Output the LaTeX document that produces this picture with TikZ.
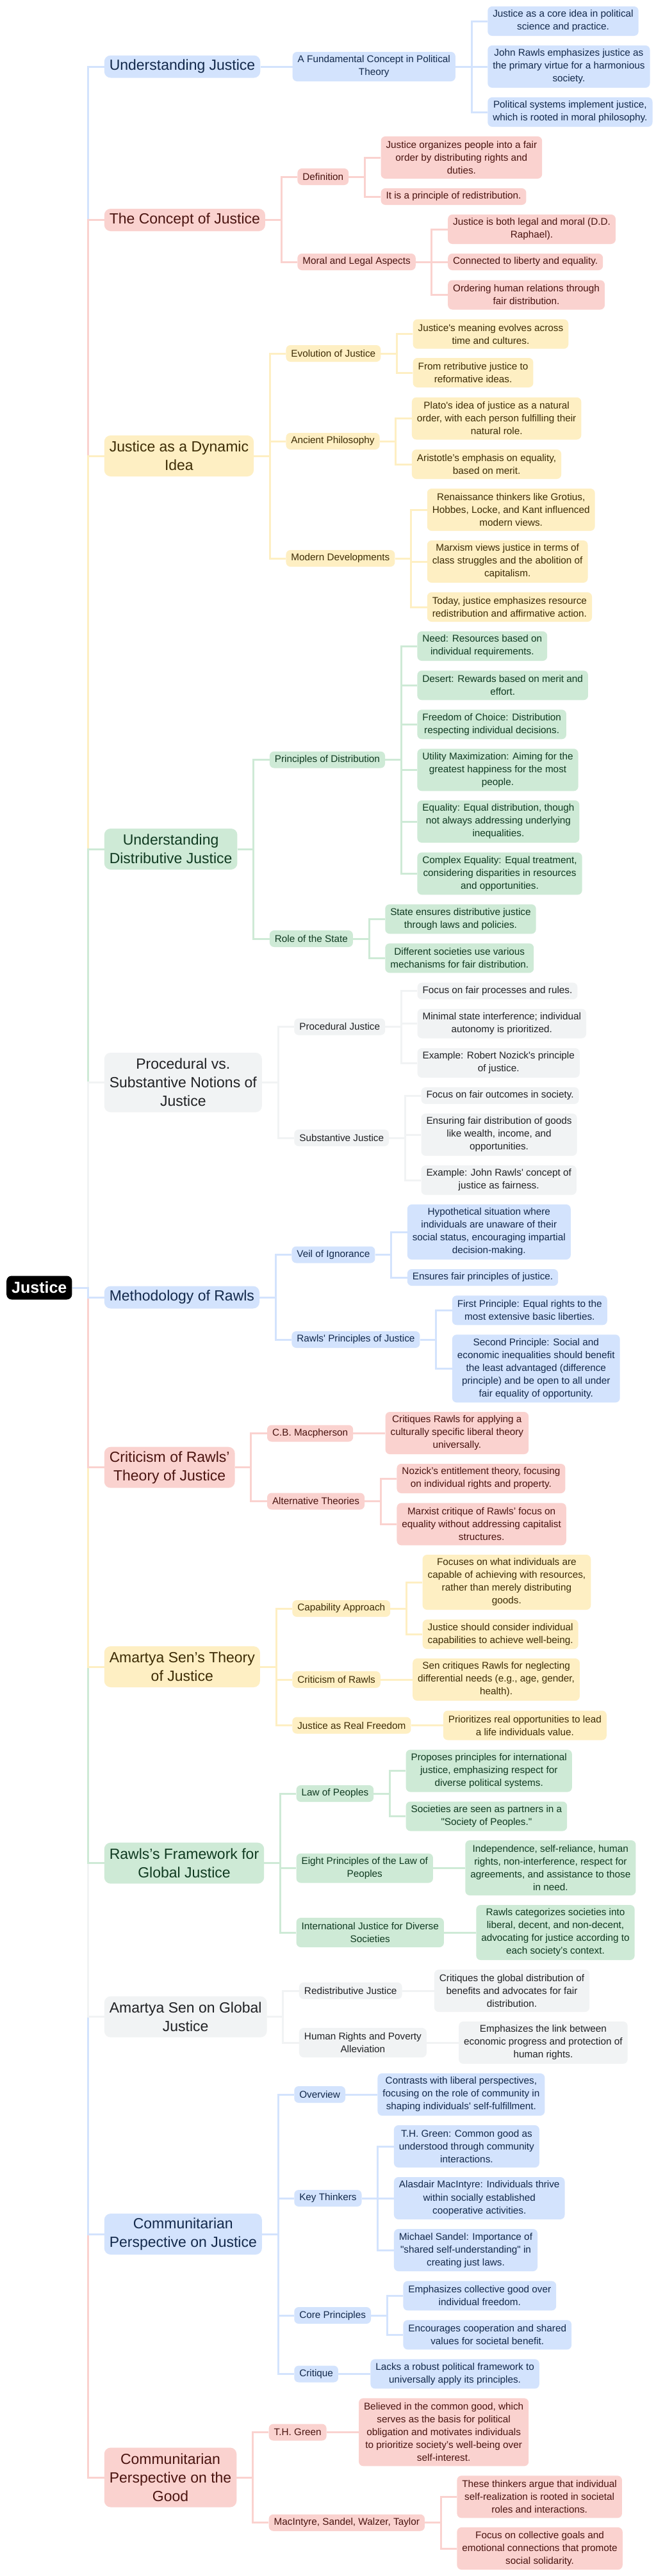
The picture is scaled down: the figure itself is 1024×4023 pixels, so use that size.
\documentclass[tikz,border=0pt]{standalone}
\usepackage{fontspec}
\setmainfont{Liberation Sans}[Ligatures=TeXOff]
\usetikzlibrary{calc,backgrounds}
\definecolor{fB}{HTML}{D3E3FD}\definecolor{tB}{HTML}{13294B}
\definecolor{fR}{HTML}{FAD2CF}\definecolor{tR}{HTML}{4A1410}
\definecolor{fY}{HTML}{FEEFC3}\definecolor{tY}{HTML}{3D2C05}
\definecolor{fG}{HTML}{CEEAD6}\definecolor{tG}{HTML}{103A21}
\definecolor{fK}{HTML}{F1F3F4}\definecolor{tK}{HTML}{202124}
\tikzset{
  base/.style={align=center,inner xsep=8pt,inner ysep=3pt},
  small/.style={base,rounded corners=7pt,font=\fontsize{15.3}{20}\selectfont},
  big/.style={base,rounded corners=10pt,font=\fontsize{23}{29}\selectfont},
  n1/.style={minimum height=26pt},n2/.style={minimum height=46pt},
  n3/.style={minimum height=66pt},n4/.style={minimum height=86pt},
  n5/.style={minimum height=106pt},
  b1/.style={minimum height=35pt},b2/.style={minimum height=64pt},
  b3/.style={minimum height=93pt},
  cB/.style={fill=fB,text=tB},cR/.style={fill=fR,text=tR},
  cY/.style={fill=fY,text=tY},cG/.style={fill=fG,text=tG},
  cK/.style={fill=fK,text=tK},
  lnB/.style={draw=fB,line width=3pt},lnR/.style={draw=fR,line width=3pt},
  lnY/.style={draw=fY,line width=3pt},lnG/.style={draw=fG,line width=3pt},
  lnK/.style={draw=fK,line width=3pt},
}
% #1 parent, #2 name, #3 colour, #4 lines, #5 y, #6 text
\newcommand\mmkid[6]{%
  \node[small,c#3,n#4,anchor=west] (#2) at ($(#1.east |- 0,#5)+(50,0)$) {#6};
  \begin{pgfonlayer}{background}\draw[ln#3] (#1.east) -- ++(25,0) |- (#2.west);\end{pgfonlayer}%
}
\newcommand\mmtop[5]{%
  \node[big,c#2,b#3,anchor=west] (#1) at ($(root.east |- 0,#4)+(50,0)$) {#5};%
}
\begin{document}
\begin{tikzpicture}[x=1pt,y=-1pt]
\useasboundingbox (0,0) rectangle (1024,4023);
\begin{pgfonlayer}{background}\fill[white] (0,0) rectangle (1024,4023);\end{pgfonlayer}
\node[base,rounded corners=8pt,fill=black,text=white,minimum height=37pt,font=\bfseries\fontsize{25}{31}\selectfont,anchor=west] (root) at (10,2011) {Justice};

\mmtop{uj}{B}{1}{104}{Understanding Justice}
\mmtop{cj}{R}{1}{343.5}{The Concept of Justice}
\mmtop{dyn}{Y}{2}{712}{Justice as a Dynamic\\Idea}
\mmtop{dist}{G}{2}{1326}{Understanding\\Distributive Justice}
\mmtop{proc}{K}{3}{1690.5}{Procedural vs.\\Substantive Notions of\\Justice}
\mmtop{meth}{B}{1}{2026}{Methodology of Rawls}
\mmtop{crit}{R}{2}{2291.7}{Criticism of Rawls’\\Theory of Justice}
\mmtop{sen}{Y}{2}{2603}{Amartya Sen’s Theory\\of Justice}
\mmtop{glob}{G}{2}{2909.7}{Rawls’s Framework for\\Global Justice}
\mmtop{seng}{K}{2}{3149.7}{Amartya Sen on Global\\Justice}
\mmtop{comj}{B}{2}{3489}{Communitarian\\Perspective on Justice}
\mmtop{comg}{R}{3}{3869}{Communitarian\\Perspective on the\\Good}

\begin{pgfonlayer}{background}
\draw[lnB] (root.east) -- ++(25,0) |- (uj.west);
\draw[lnR] (root.east) -- ++(25,0) |- (cj.west);
\draw[lnY] (root.east) -- ++(25,0) |- (dyn.west);
\draw[lnG] (root.east) -- ++(25,0) |- (dist.west);
\draw[lnK] (root.east) -- ++(25,0) |- (proc.west);
\draw[lnR] (root.east) -- ++(25,0) |- (comg.west);
\draw[lnB] (root.east) -- ++(25,0) |- (comj.west);
\draw[lnK] (root.east) -- ++(25,0) |- (seng.west);
\draw[lnG] (root.east) -- ++(25,0) |- (glob.west);
\draw[lnY] (root.east) -- ++(25,0) |- (sen.west);
\draw[lnR] (root.east) -- ++(25,0) |- (crit.west);
\draw[lnB] (root.east) -- ++(25,0) |- (meth.west);
\end{pgfonlayer}

% Understanding Justice
\mmkid{uj}{fc}{B}{2}{104}{A Fundamental Concept in Political\\Theory}
\mmkid{fc}{a1}{B}{2}{33}{Justice as a core idea in political\\science and practice.}
\mmkid{fc}{a2}{B}{3}{104}{John Rawls emphasizes justice as\\the primary virtue for a harmonious\\society.}
\mmkid{fc}{a3}{B}{2}{175}{Political systems implement justice,\\which is rooted in moral philosophy.}

% Concept of Justice
\mmkid{cj}{def}{R}{1}{276}{Definition}
\mmkid{def}{b1x}{R}{3}{246}{Justice organizes people into a fair\\order by distributing rights and\\duties.}
\mmkid{def}{b2x}{R}{1}{307}{It is a principle of redistribution.}
\mmkid{cj}{mla}{R}{1}{409}{Moral and Legal Aspects}
\mmkid{mla}{b3x}{R}{2}{358}{Justice is both legal and moral (D.D.\\Raphael).}
\mmkid{mla}{b4x}{R}{1}{409}{Connected to liberty and equality.}
\mmkid{mla}{b5x}{R}{2}{460.5}{Ordering human relations through\\fair distribution.}

% Dynamic idea
\mmkid{dyn}{evo}{Y}{1}{552}{Evolution of Justice}
\mmkid{evo}{c1}{Y}{2}{521.7}{Justice's meaning evolves across\\time and cultures.}
\mmkid{evo}{c2}{Y}{2}{582}{From retributive justice to\\reformative ideas.}
\mmkid{dyn}{anc}{Y}{1}{689}{Ancient Philosophy}
\mmkid{anc}{c3}{Y}{3}{653.5}{Plato's idea of justice as a natural\\order, with each person fulfilling their\\natural role.}
\mmkid{anc}{c4}{Y}{2}{725}{Aristotle’s emphasis on equality,\\based on merit.}
\mmkid{dyn}{mod}{Y}{1}{872}{Modern Developments}
\mmkid{mod}{c5}{Y}{3}{796}{Renaissance thinkers like Grotius,\\Hobbes, Locke, and Kant influenced\\modern views.}
\mmkid{mod}{c6}{Y}{3}{877}{Marxism views justice in terms of\\class struggles and the abolition of\\capitalism.}
\mmkid{mod}{c7}{Y}{2}{948}{Today, justice emphasizes resource\\redistribution and affirmative action.}

% Distributive
\mmkid{dist}{pod}{G}{1}{1186.5}{Principles of Distribution}
\mmkid{pod}{d1}{G}{2}{1009}{Need: Resources based on\\individual requirements.}
\mmkid{pod}{d2}{G}{2}{1070.3}{Desert: Rewards based on merit and\\effort.}
\mmkid{pod}{d3}{G}{2}{1131.3}{Freedom of Choice: Distribution\\respecting individual decisions.}
\mmkid{pod}{d4}{G}{3}{1202.3}{Utility Maximization: Aiming for the\\greatest happiness for the most\\people.}
\mmkid{pod}{d5}{G}{3}{1283}{Equality: Equal distribution, though\\not always addressing underlying\\inequalities.}
\mmkid{pod}{d6}{G}{3}{1364.3}{Complex Equality: Equal treatment,\\considering disparities in resources\\and opportunities.}
\mmkid{dist}{ros}{G}{1}{1466}{Role of the State}
\mmkid{ros}{d7}{G}{2}{1435.3}{State ensures distributive justice\\through laws and policies.}
\mmkid{ros}{d8}{G}{2}{1496.3}{Different societies use various\\mechanisms for fair distribution.}

% Procedural vs substantive
\mmkid{proc}{pj}{K}{1}{1603.5}{Procedural Justice}
\mmkid{pj}{e1}{K}{1}{1547.7}{Focus on fair processes and rules.}
\mmkid{pj}{e2}{K}{2}{1598.5}{Minimal state interference; individual\\autonomy is prioritized.}
\mmkid{pj}{e3}{K}{2}{1660}{Example: Robert Nozick's principle\\of justice.}
\mmkid{proc}{sj}{K}{1}{1777}{Substantive Justice}
\mmkid{sj}{e4}{K}{1}{1711}{Focus on fair outcomes in society.}
\mmkid{sj}{e5}{K}{3}{1772}{Ensuring fair distribution of goods\\like wealth, income, and\\opportunities.}
\mmkid{sj}{e6}{K}{2}{1843}{Example: John Rawls' concept of\\justice as fairness.}

% Methodology of Rawls
\mmkid{meth}{voi}{B}{1}{1959.5}{Veil of Ignorance}
\mmkid{voi}{f1}{B}{4}{1924}{Hypothetical situation where\\individuals are unaware of their\\social status, encouraging impartial\\decision-making.}
\mmkid{voi}{f2}{B}{1}{1995}{Ensures fair principles of justice.}
\mmkid{meth}{rpj}{B}{1}{2092}{Rawls' Principles of Justice}
\mmkid{rpj}{f3}{B}{2}{2046.3}{First Principle: Equal rights to the\\most extensive basic liberties.}
\mmkid{rpj}{f4}{B}{5}{2137.3}{Second Principle: Social and\\economic inequalities should benefit\\the least advantaged (difference\\principle) and be open to all under\\fair equality of opportunity.}

% Criticism
\mmkid{crit}{cbm}{R}{1}{2238.5}{C.B. Macpherson}
\mmkid{cbm}{g1}{R}{3}{2238}{Critiques Rawls for applying a\\culturally specific liberal theory\\universally.}
\mmkid{crit}{alt}{R}{1}{2344.5}{Alternative Theories}
\mmkid{alt}{g2}{R}{2}{2309}{Nozick’s entitlement theory, focusing\\on individual rights and property.}
\mmkid{alt}{g3}{R}{3}{2380.3}{Marxist critique of Rawls’ focus on\\equality without addressing capitalist\\structures.}

% Sen's theory
\mmkid{sen}{cap}{Y}{1}{2512}{Capability Approach}
\mmkid{cap}{h1}{Y}{4}{2471}{Focuses on what individuals are\\capable of achieving with resources,\\rather than merely distributing\\goods.}
\mmkid{cap}{h2}{Y}{2}{2552.3}{Justice should consider individual\\capabilities to achieve well-being.}
\mmkid{sen}{cor}{Y}{1}{2623}{Criticism of Rawls}
\mmkid{cor}{h3}{Y}{3}{2623}{Sen critiques Rawls for neglecting\\differential needs (e.g., age, gender,\\health).}
\mmkid{sen}{jrf}{Y}{1}{2694.5}{Justice as Real Freedom}
\mmkid{jrf}{h4}{Y}{2}{2694.5}{Prioritizes real opportunities to lead\\a life individuals value.}

% Rawls's global framework
\mmkid{glob}{lop}{G}{1}{2801}{Law of Peoples}
\mmkid{lop}{i1}{G}{3}{2765.5}{Proposes principles for international\\justice, emphasizing respect for\\diverse political systems.}
\mmkid{lop}{i2}{G}{2}{2836.5}{Societies are seen as partners in a\\"Society of Peoples."}
\mmkid{glob}{epl}{G}{2}{2917.5}{Eight Principles of the Law of\\Peoples}
\mmkid{epl}{i3}{G}{4}{2917}{Independence, self-reliance, human\\rights, non-interference, respect for\\agreements, and assistance to those\\in need.}
\mmkid{glob}{ijd}{G}{2}{3018}{International Justice for Diverse\\Societies}
\mmkid{ijd}{i4}{G}{4}{3018}{Rawls categorizes societies into\\liberal, decent, and non-decent,\\advocating for justice according to\\each society’s context.}

% Sen on global justice
\mmkid{seng}{rdj}{K}{1}{3109}{Redistributive Justice}
\mmkid{rdj}{j1}{K}{3}{3109}{Critiques the global distribution of\\benefits and advocates for fair\\distribution.}
\mmkid{seng}{hrp}{K}{2}{3190}{Human Rights and Poverty\\Alleviation}
\mmkid{hrp}{j2}{K}{3}{3190}{Emphasizes the link between\\economic progress and protection of\\human rights.}

% Communitarian on justice
\mmkid{comj}{ovr}{B}{1}{3271}{Overview}
\mmkid{ovr}{k1}{B}{3}{3271}{Contrasts with liberal perspectives,\\focusing on the role of community in\\shaping individuals' self-fulfillment.}
\mmkid{comj}{kt}{B}{1}{3433}{Key Thinkers}
\mmkid{kt}{k2}{B}{3}{3352}{T.H. Green: Common good as\\understood through community\\interactions.}
\mmkid{kt}{k3}{B}{3}{3433}{Alasdair MacIntyre: Individuals thrive\\within socially established\\cooperative activities.}
\mmkid{kt}{k4}{B}{3}{3514}{Michael Sandel: Importance of\\"shared self-understanding" in\\creating just laws.}
\mmkid{comj}{cp}{B}{1}{3616}{Core Principles}
\mmkid{cp}{k5}{B}{2}{3585.3}{Emphasizes collective good over\\individual freedom.}
\mmkid{cp}{k6}{B}{2}{3646.3}{Encourages cooperation and shared\\values for societal benefit.}
\mmkid{comj}{crq}{B}{1}{3707.5}{Critique}
\mmkid{crq}{k7}{B}{2}{3707.3}{Lacks a robust political framework to\\universally apply its principles.}

% Communitarian on the good
\mmkid{comg}{thg}{R}{1}{3798.5}{T.H. Green}
\mmkid{thg}{l1}{R}{5}{3798.3}{Believed in the common good, which\\serves as the basis for political\\obligation and motivates individuals\\to prioritize society’s well-being over\\self-interest.}
\mmkid{comg}{mswt}{R}{1}{3939.7}{MacIntyre, Sandel, Walzer, Taylor}
\mmkid{mswt}{l2}{R}{3}{3899.3}{These thinkers argue that individual\\self-realization is rooted in societal\\roles and interactions.}
\mmkid{mswt}{l3}{R}{3}{3980}{Focus on collective goals and\\emotional connections that promote\\social solidarity.}
\end{tikzpicture}
\end{document}
